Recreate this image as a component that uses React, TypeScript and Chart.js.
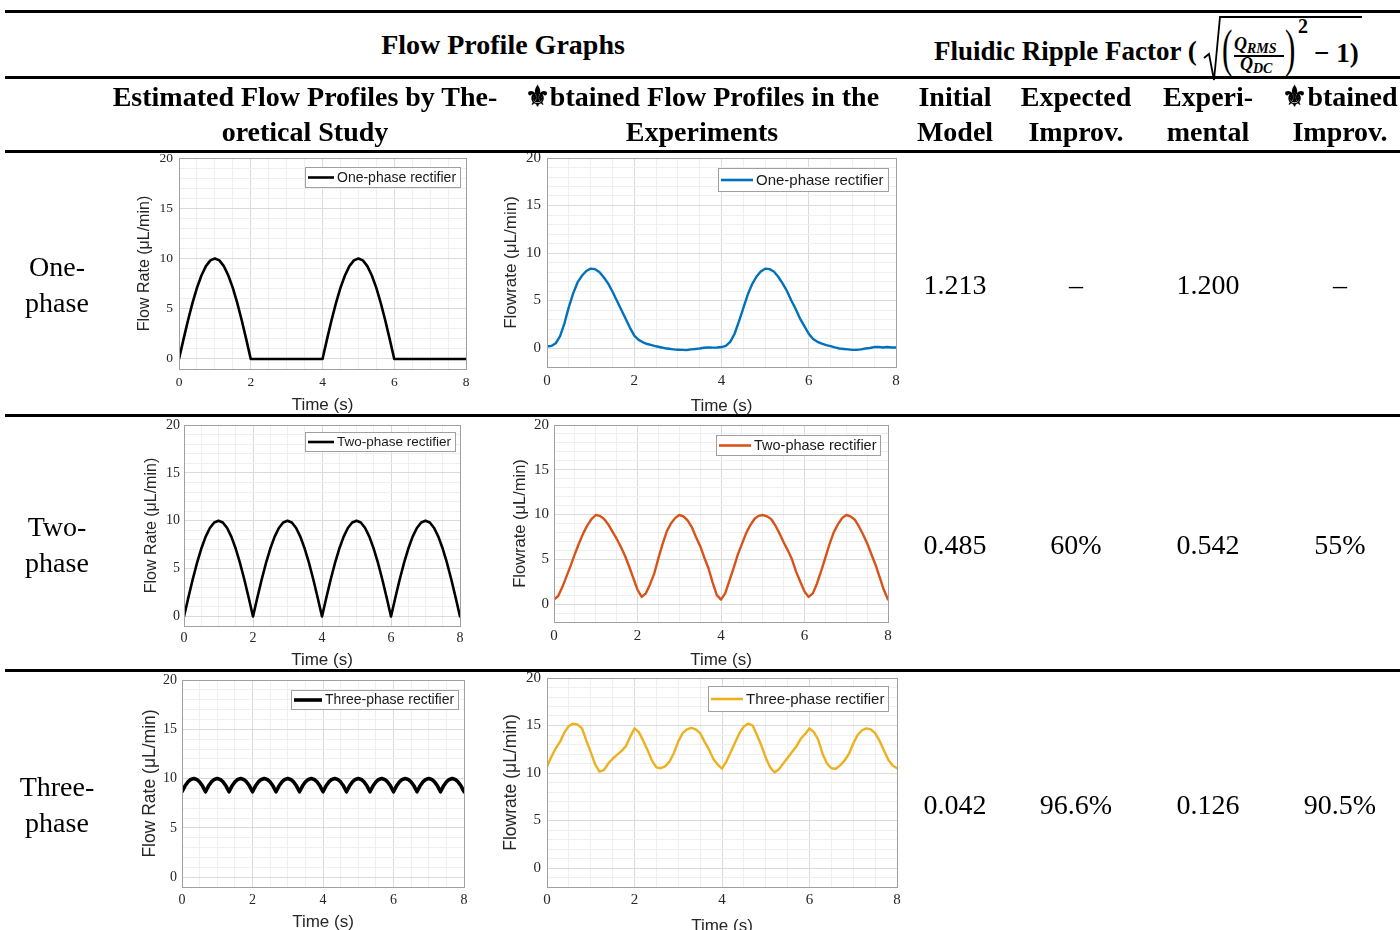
import React, { useEffect, useRef } from "react";
import { Chart, registerables } from "chart.js";

Chart.register(...registerables);

// ---------------- DATA ----------------
// Theoretical profiles, sampled every 0.125 s (0..8 s)
const theoStep = 0.125;
const theoOnePhase = [
  0, 1.95, 3.83, 5.56, 7.07, 8.31, 9.24, 9.81, 10, 9.81, 9.24, 8.31, 7.07, 5.56, 3.83, 1.95, 0,
  0, 0, 0, 0, 0, 0, 0, 0, 0, 0, 0, 0, 0, 0, 0, 0,
  1.95, 3.83, 5.56, 7.07, 8.31, 9.24, 9.81, 10, 9.81, 9.24, 8.31, 7.07, 5.56, 3.83, 1.95, 0,
  0, 0, 0, 0, 0, 0, 0, 0, 0, 0, 0, 0, 0, 0, 0, 0,
];
const theoTwoPhase = [
  0, 1.95, 3.83, 5.56, 7.07, 8.31, 9.24, 9.81, 10, 9.81, 9.24, 8.31, 7.07, 5.56, 3.83, 1.95, 0,
  1.95, 3.83, 5.56, 7.07, 8.31, 9.24, 9.81, 10, 9.81, 9.24, 8.31, 7.07, 5.56, 3.83, 1.95, 0,
  1.95, 3.83, 5.56, 7.07, 8.31, 9.24, 9.81, 10, 9.81, 9.24, 8.31, 7.07, 5.56, 3.83, 1.95, 0,
  1.95, 3.83, 5.56, 7.07, 8.31, 9.24, 9.81, 10, 9.81, 9.24, 8.31, 7.07, 5.56, 3.83, 1.95, 0,
];
// Three-phase theoretical, sampled every 1/12 s
const theoThreeStep = 1 / 12;
const theoThreePhase = [
  8.66, 9.24, 9.66, 9.91, 10, 9.91, 9.66, 9.24,
  8.66, 9.24, 9.66, 9.91, 10, 9.91, 9.66, 9.24,
  8.66, 9.24, 9.66, 9.91, 10, 9.91, 9.66, 9.24,
  8.66, 9.24, 9.66, 9.91, 10, 9.91, 9.66, 9.24,
  8.66, 9.24, 9.66, 9.91, 10, 9.91, 9.66, 9.24,
  8.66, 9.24, 9.66, 9.91, 10, 9.91, 9.66, 9.24,
  8.66, 9.24, 9.66, 9.91, 10, 9.91, 9.66, 9.24,
  8.66, 9.24, 9.66, 9.91, 10, 9.91, 9.66, 9.24,
  8.66, 9.24, 9.66, 9.91, 10, 9.91, 9.66, 9.24,
  8.66, 9.24, 9.66, 9.91, 10, 9.91, 9.66, 9.24,
  8.66, 9.24, 9.66, 9.91, 10, 9.91, 9.66, 9.24,
  8.66, 9.24, 9.66, 9.91, 10, 9.91, 9.66, 9.24,
  8.66,
];
// Experimental profiles, sampled every 0.1 s
const expStep = 0.1;
const expOnePhase = [
  0.15, 0.22, 0.5, 1.25, 2.6, 4.3, 5.75, 6.9, 7.6, 8.1,
  8.35, 8.3, 8.0, 7.45, 6.8, 5.95, 5.0, 4.05, 3.1, 2.15,
  1.3, 0.85, 0.6, 0.42, 0.3, 0.18, 0.08, -0.02, -0.08, -0.15,
  -0.18, -0.2, -0.22, -0.15, -0.1, -0.05, 0.02, 0.05, 0.04, 0.06,
  0.1, 0.22, 0.65, 1.5, 2.8, 4.2, 5.6, 6.7, 7.5, 8.05,
  8.35, 8.3, 8.05, 7.5, 6.8, 6.0, 5.0, 4.1, 3.1, 2.3,
  1.5, 0.95, 0.65, 0.45, 0.3, 0.2, 0.06, -0.05, -0.1, -0.15,
  -0.2, -0.2, -0.14, -0.05, 0.0, 0.1, 0.12, 0.05, 0.1, 0.05,
  0.05,
];
const expTwoPhase = [
  0.5, 0.9, 1.9, 3.1, 4.3, 5.6, 6.8, 7.9, 8.8, 9.5,
  9.95, 9.85, 9.5, 8.9, 8.1, 7.3, 6.4, 5.4, 4.2, 2.9,
  1.6, 0.8, 1.2, 2.2, 3.4, 5.1, 6.7, 8.1, 9.0, 9.6,
  9.95, 9.8, 9.35, 8.6, 7.5, 6.5, 5.2, 4.0, 2.4, 1.0,
  0.5, 1.2, 2.6, 4.0, 5.5, 6.7, 7.9, 8.8, 9.5, 9.85,
  9.95, 9.8, 9.5, 8.8, 7.9, 6.9, 6.0, 5.0, 3.6, 2.5,
  1.4, 0.8, 1.2, 2.3, 3.7, 5.2, 6.7, 8.0, 8.9, 9.6,
  9.95, 9.8, 9.45, 8.7, 7.8, 6.8, 5.6, 4.4, 3.0, 1.6,
  0.5,
];
const expThreePhase = [
  10.65, 11.7, 12.6, 13.3, 14.3, 14.95, 15.2, 15.1, 14.7, 13.4,
  12.2, 10.9, 10.15, 10.3, 11.0, 11.5, 11.9, 12.3, 12.8, 13.8,
  14.7, 14.3, 13.4, 12.4, 11.3, 10.6, 10.5, 10.7, 11.2, 12.1,
  13.3, 14.2, 14.6, 14.75, 14.6, 14.2, 13.3, 12.5, 11.5, 10.9,
  10.45, 11.2, 12.2, 13.2, 14.2, 14.9, 15.2, 15.0, 14.0, 12.9,
  11.6, 10.6, 10.05, 10.4, 11.0, 11.6, 12.2, 12.8, 13.6, 14.1,
  14.7, 14.3, 13.5, 12.0, 11.0, 10.5, 10.45, 10.8, 11.3, 12.0,
  13.1, 14.0, 14.5, 14.7, 14.6, 14.2, 13.4, 12.4, 11.4, 10.8,
  10.5,
];

const xMajorTicks = [0, 2, 4, 6, 8];
const yMajorTicks = [0, 5, 10, 15, 20];

const rowLabels = [["One-", "phase"], ["Two-", "phase"], ["Three-", "phase"]];
const initialModel = ["1.213", "0.485", "0.042"];
const expectedImprov = ["\u2013", "60%", "96.6%"];
const experimental = ["1.200", "0.542", "0.126"];
const obtainedImprov = ["\u2013", "55%", "90.5%"];

// ---------------- STYLE ----------------
const SERIF = '"Liberation Serif", "Times New Roman", serif';
const SANS = '"Liberation Sans", Arial, sans-serif';
const MAJOR_GRID = "#dadada";
const MINOR_GRID = "#efefef";
const FRAME = "#a0a0a0";
const AXIS_TEXT = "#262626";

const isMajor = (v: number, list: number[]) => list.some((m) => Math.abs(m - v) < 1e-6);

const frameLegendPlugin = {
  id: "frameLegend",
  afterDatasetsDraw(chart: any, _args: any, opts: any) {
    const { ctx, chartArea: a } = chart;
    ctx.save();
    ctx.strokeStyle = FRAME;
    ctx.lineWidth = 1;
    ctx.strokeRect(Math.round(a.left) + 0.5, Math.round(a.top) + 0.5, Math.round(a.right - a.left), Math.round(a.bottom - a.top));
    const ds = chart.data.datasets[0];
    ctx.font = `${opts.fontSize}px ${SANS}`;
    const tw = ctx.measureText(ds.label).width;
    const bw = Math.round(3 + opts.lineLen + 3 + tw + 4);
    const bx = Math.round(a.right - opts.insetR - bw);
    const by = Math.round(a.top + opts.insetT);
    ctx.fillStyle = "#ffffff";
    ctx.fillRect(bx, by, bw, opts.boxH);
    ctx.strokeStyle = FRAME;
    ctx.lineWidth = 1;
    ctx.strokeRect(bx + 0.5, by + 0.5, bw, opts.boxH);
    ctx.strokeStyle = ds.borderColor;
    ctx.lineWidth = opts.lineW;
    ctx.beginPath();
    ctx.moveTo(bx + 3, by + opts.boxH / 2 + 0.5);
    ctx.lineTo(bx + 3 + opts.lineLen, by + opts.boxH / 2 + 0.5);
    ctx.stroke();
    ctx.fillStyle = "#1a1a1a";
    ctx.textBaseline = "middle";
    ctx.textAlign = "left";
    ctx.fillText(ds.label, bx + 6 + opts.lineLen, by + opts.boxH / 2 + 1);
    ctx.restore();
  },
};

type Spec = {
  id: string;
  cx: number; cy: number; cw: number; ch: number;
  plotL: number; plotR: number; plotT: number; plotB: number;
  yMin: number;
  yTitle: string; yTitleX: number; yTitleSize: number;
  xTitleY: number; xTickCenter: number; tickSize: number; yTickPad: number;
  values: number[]; step: number;
  color: string; lineWidth: number; label: string;
  legend: { fontSize: number; lineLen: number; boxH: number; insetR: number; insetT: number; lineW: number };
};

const specs: Spec[] = [
  {
    id: "c1", cx: 133, cy: 138, cw: 345, ch: 279,
    plotL: 179, plotR: 466, plotT: 158, plotB: 369, yMin: -1,
    yTitle: "Flow Rate (\u03bcL/min)", yTitleX: 145, yTitleSize: 16,
    xTitleY: 405, xTickCenter: 382, tickSize: 13.5, yTickPad: 6,
    values: theoOnePhase, step: theoStep, color: "#000000", lineWidth: 2.6, label: "One-phase rectifier",
    legend: { fontSize: 14, lineLen: 26, boxH: 20, insetR: 6, insetT: 9, lineW: 2.6 },
  },
  {
    id: "c2", cx: 499, cy: 138, cw: 409, ch: 280,
    plotL: 547, plotR: 896, plotT: 158, plotB: 367, yMin: -2,
    yTitle: "Flowrate (\u03bcL/min)", yTitleX: 511, yTitleSize: 17,
    xTitleY: 406, xTickCenter: 381, tickSize: 15, yTickPad: 6,
    values: expOnePhase, step: expStep, color: "#0072BD", lineWidth: 2.4, label: "One-phase rectifier",
    legend: { fontSize: 15, lineLen: 32, boxH: 23, insetR: 8, insetT: 10, lineW: 2.6 },
  },
  {
    id: "c3", cx: 140, cy: 405, cw: 332, ch: 267,
    plotL: 184, plotR: 460, plotT: 425, plotB: 626, yMin: -1,
    yTitle: "Flow Rate (\u03bcL/min)", yTitleX: 152, yTitleSize: 16,
    xTitleY: 660, xTickCenter: 638, tickSize: 14, yTickPad: 4,
    values: theoTwoPhase, step: theoStep, color: "#000000", lineWidth: 2.6, label: "Two-phase rectifier",
    legend: { fontSize: 13.5, lineLen: 26, boxH: 19, insetR: 5, insetT: 7, lineW: 2.6 },
  },
  {
    id: "c4", cx: 508, cy: 405, cw: 392, ch: 267,
    plotL: 554, plotR: 888, plotT: 425, plotB: 622, yMin: -2,
    yTitle: "Flowrate (\u03bcL/min)", yTitleX: 520, yTitleSize: 16.5,
    xTitleY: 660, xTickCenter: 636, tickSize: 15, yTickPad: 5,
    values: expTwoPhase, step: expStep, color: "#D95319", lineWidth: 2.4, label: "Two-phase rectifier",
    legend: { fontSize: 14.5, lineLen: 32, boxH: 20, insetR: 8, insetT: 10, lineW: 2.6 },
  },
  {
    id: "c5", cx: 138, cy: 660, cw: 338, ch: 274,
    plotL: 182, plotR: 464, plotT: 680, plotB: 887, yMin: -1,
    yTitle: "Flow Rate (\u03bcL/min)", yTitleX: 150, yTitleSize: 17.5,
    xTitleY: 922, xTickCenter: 900, tickSize: 14, yTickPad: 5,
    values: theoThreePhase, step: theoThreeStep, color: "#000000", lineWidth: 3.6, label: "Three-phase rectifier",
    legend: { fontSize: 14, lineLen: 28, boxH: 19, insetR: 6, insetT: 10, lineW: 3.6 },
  },
  {
    id: "c6", cx: 499, cy: 658, cw: 410, ch: 280,
    plotL: 547, plotR: 897, plotT: 678, plotB: 887, yMin: -2,
    yTitle: "Flowrate (\u03bcL/min)", yTitleX: 511, yTitleSize: 17.5,
    xTitleY: 926, xTickCenter: 900, tickSize: 15, yTickPad: 6,
    values: expThreePhase, step: expStep, color: "#EDB120", lineWidth: 2.4, label: "Three-phase rectifier",
    legend: { fontSize: 15, lineLen: 32, boxH: 25, insetR: 9, insetT: 8, lineW: 2.6 },
  },
];

function buildConfig(s: Spec): any {
  const canvasBottom = s.cy + s.ch;
  const tickLH = s.tickSize * 1.2;
  const xTitleLH = 17 * 1.2;
  const yTitleLH = s.yTitleSize * 1.2;
  return {
    type: "line",
    data: {
      datasets: [
        {
          label: s.label,
          data: s.values.map((v, i) => ({ x: Math.round(i * s.step * 10000) / 10000, y: v })),
          borderColor: s.color,
          borderWidth: s.lineWidth,
          pointRadius: 0,
          tension: 0,
          fill: false,
          borderJoinStyle: "round",
          borderCapStyle: "round",
        },
      ],
    },
    options: {
      responsive: false,
      maintainAspectRatio: false,
      animation: false,
      events: [],
      layout: { padding: { left: 0, top: s.plotT - s.cy, right: s.cx + s.cw - s.plotR, bottom: 0 } },
      plugins: {
        legend: { display: false },
        tooltip: { enabled: false },
        frameLegend: s.legend,
      },
      scales: {
        x: {
          type: "linear",
          min: 0,
          max: 8,
          afterFit: (axis: any) => { axis.height = canvasBottom - s.plotB; },
          ticks: {
            stepSize: 0.5,
            autoSkip: false,
            maxRotation: 0,
            minRotation: 0,
            padding: s.xTickCenter - s.plotB - tickLH / 2,
            color: AXIS_TEXT,
            font: { family: SERIF, size: s.tickSize },
            callback: (v: number) => (isMajor(v, xMajorTicks) ? String(Math.round(v)) : ""),
          },
          grid: {
            drawTicks: false,
            lineWidth: 1,
            color: (c: any) => (c.tick && isMajor(c.tick.value, xMajorTicks) ? MAJOR_GRID : MINOR_GRID),
          },
          border: { display: false },
          title: {
            display: true,
            text: "Time (s)",
            color: AXIS_TEXT,
            font: { family: SANS, size: 17 },
            padding: { top: 0, bottom: canvasBottom - s.xTitleY - xTitleLH / 2 },
          },
        },
        y: {
          type: "linear",
          min: s.yMin,
          max: 20,
          afterFit: (axis: any) => { axis.width = s.plotL - s.cx; },
          ticks: {
            stepSize: 1,
            autoSkip: false,
            padding: s.yTickPad,
            color: AXIS_TEXT,
            font: { family: SERIF, size: s.tickSize },
            callback: (v: number) => (isMajor(v, yMajorTicks) ? String(Math.round(v)) : ""),
          },
          grid: {
            drawTicks: false,
            lineWidth: 1,
            color: (c: any) => (c.tick && isMajor(c.tick.value, yMajorTicks) ? MAJOR_GRID : MINOR_GRID),
          },
          border: { display: false },
          title: {
            display: true,
            text: s.yTitle,
            color: AXIS_TEXT,
            font: { family: SANS, size: s.yTitleSize },
            padding: { top: s.yTitleX - s.cx - yTitleLH / 2, bottom: 0 },
          },
        },
      },
    },
    plugins: [frameLegendPlugin],
  };
}

function ChartCanvas({ spec }: { spec: Spec }) {
  const ref = useRef<HTMLCanvasElement | null>(null);
  useEffect(() => {
    if (!ref.current) return;
    const chart = new Chart(ref.current, buildConfig(spec));
    return () => chart.destroy();
  }, [spec]);
  return (
    <canvas
      ref={ref}
      width={spec.cw}
      height={spec.ch}
      style={{ position: "absolute", left: spec.cx, top: spec.cy, width: spec.cw, height: spec.ch }}
    />
  );
}

// ---------------- TABLE TEXT HELPERS ----------------
function Block({ x, baseline, lines, size = 28, bold = false, lh = 35 }: { x: number; baseline: number; lines: string[]; size?: number; bold?: boolean; lh?: number }) {
  const top = baseline - ((lh - 1.107 * size) / 2 + 0.891 * size);
  return (
    <div
      style={{
        position: "absolute", left: x - 300, width: 600, top, textAlign: "center",
        fontFamily: SERIF, fontSize: size, fontWeight: bold ? 700 : 400, lineHeight: `${lh}px`,
        color: "#000", whiteSpace: "nowrap",
      }}
    >
      {lines.map((l, i) => (
        <div key={i}>{l}</div>
      ))}
    </div>
  );
}

function At({ left, baseline, text, size, bold = true, italic = false, extra }: { left: number; baseline: number; text: string; size: number; bold?: boolean; italic?: boolean; extra?: React.CSSProperties }) {
  return (
    <div
      style={{
        position: "absolute", left, top: baseline - 0.9375 * size, fontFamily: SERIF, fontSize: size,
        lineHeight: `${size * 1.2}px`, fontWeight: bold ? 700 : 400, fontStyle: italic ? "italic" : "normal",
        color: "#000", whiteSpace: "nowrap", ...extra,
      }}
    >
      {text}
    </div>
  );
}

function Rule({ y, x1 = 5, x2 = 1400, h = 3 }: { y: number; x1?: number; x2?: number; h?: number }) {
  return <div style={{ position: "absolute", left: x1, top: y, width: x2 - x1, height: h, background: "#000" }} />;
}

const rowBaselines = [294, 554, 814];
const labelBaselines = [276, 536, 796];

export default function App() {
  return (
    <div style={{ position: "fixed", left: 0, top: 0, width: 1400, height: 930, background: "#fff", overflow: "hidden" }}>
      {specs.map((s) => (
        <ChartCanvas key={s.id} spec={s} />
      ))}

      {/* header row 1 */}
      <Block x={503} baseline={54} lines={["Flow Profile Graphs"]} bold />
      <At left={934} baseline={60} text="Fluidic Ripple Factor (" size={27} />
      <svg width={1400} height={100} style={{ position: "absolute", left: 0, top: 0 }}>
        <polyline points="1204,58 1209,54 1214,80 1220,17 1362,17" fill="none" stroke="#000" strokeWidth={1.8} strokeLinejoin="miter" />
      </svg>
      <At left={1222} baseline={67} text="(" size={52} bold={false} extra={{ transform: "scaleX(0.6)", transformOrigin: "left center" }} />
      <At left={1285} baseline={67} text=")" size={52} bold={false} extra={{ transform: "scaleX(0.6)", transformOrigin: "left center" }} />
      <At left={1234} baseline={51} text="Q" size={18} italic />
      <At left={1247} baseline={54} text="RMS" size={14} italic />
      <div style={{ position: "absolute", left: 1234, top: 55, width: 50, height: 1.6, background: "#000" }} />
      <At left={1240} baseline={71} text="Q" size={18} italic />
      <At left={1253} baseline={74} text="DC" size={14} italic />
      <At left={1298} baseline={33} text="2" size={20} />
      <At left={1314} baseline={62} text={"\u2212 1)"} size={27} />

      {/* rules */}
      <Rule y={10} />
      <Rule y={76} />
      <Rule y={150} />
      <Rule y={414} />
      <Rule y={669} />

      {/* header row 2 */}
      <Block x={305} baseline={106} lines={["Estimated Flow Profiles by The-", "oretical Study"]} bold />
      <Block x={702} baseline={106} lines={["\u269cbtained Flow Profiles in the", "Experiments"]} bold />
      <Block x={955} baseline={106} lines={["Initial", "Model"]} bold />
      <Block x={1076} baseline={106} lines={["Expected", "Improv."]} bold />
      <Block x={1208} baseline={106} lines={["Experi-", "mental"]} bold />
      <Block x={1340} baseline={106} lines={["\u269cbtained", "Improv."]} bold />

      {/* body */}
      {rowLabels.map((lines, i) => (
        <Block key={"l" + i} x={57} baseline={labelBaselines[i]} lines={lines} lh={36} />
      ))}
      {initialModel.map((v, i) => (
        <Block key={"a" + i} x={955} baseline={rowBaselines[i]} lines={[v]} />
      ))}
      {expectedImprov.map((v, i) => (
        <Block key={"b" + i} x={1076} baseline={rowBaselines[i]} lines={[v]} />
      ))}
      {experimental.map((v, i) => (
        <Block key={"c" + i} x={1208} baseline={rowBaselines[i]} lines={[v]} />
      ))}
      {obtainedImprov.map((v, i) => (
        <Block key={"d" + i} x={1340} baseline={rowBaselines[i]} lines={[v]} />
      ))}
    </div>
  );
}
